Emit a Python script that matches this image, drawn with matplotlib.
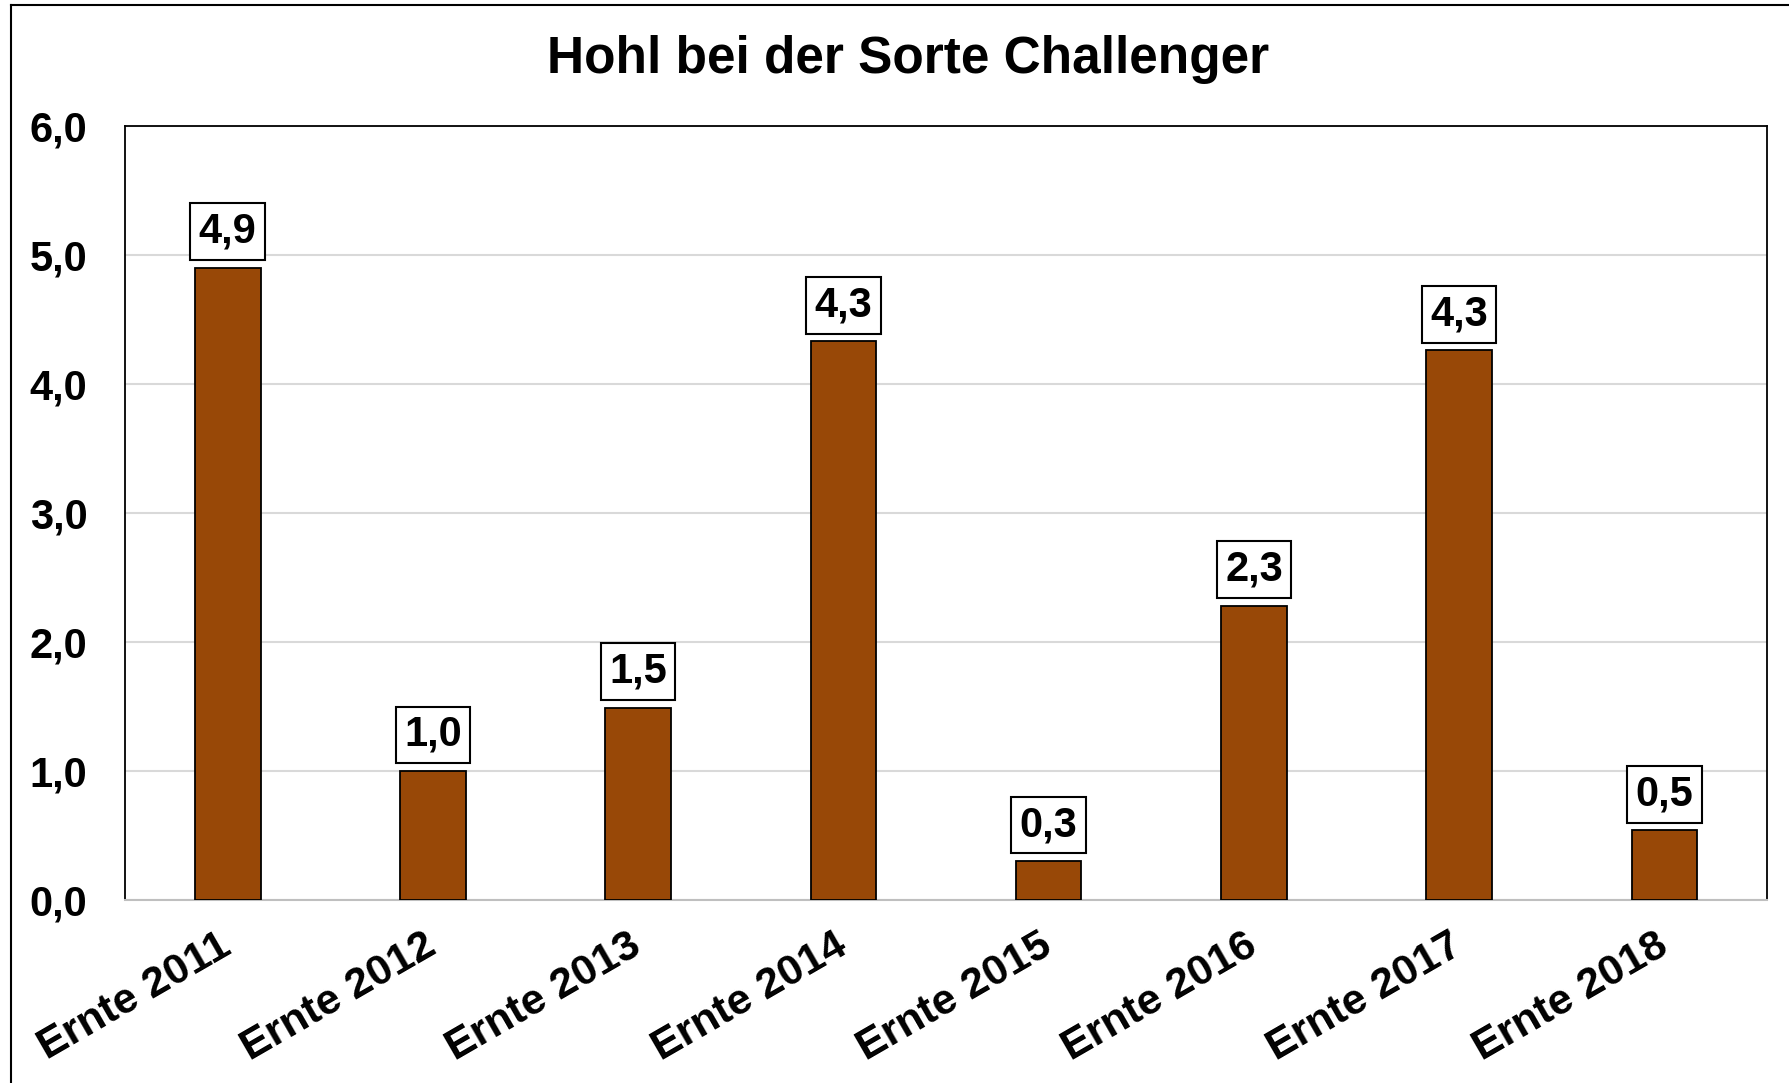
import matplotlib.pyplot as plt
from matplotlib.lines import Line2D

plt.rcParams['font.family'] = ['Liberation Sans', 'DejaVu Sans']
plt.rcParams['font.weight'] = 'bold'

TITLE = 'Hohl bei der Sorte Challenger'
years = ['Ernte 2011', 'Ernte 2012', 'Ernte 2013', 'Ernte 2014',
         'Ernte 2015', 'Ernte 2016', 'Ernte 2017', 'Ernte 2018']
values = [4.90, 1.00, 1.49, 4.33, 0.30, 2.28, 4.26, 0.54]
y_ticks = [0, 1, 2, 3, 4, 5, 6]

BAR_COLOR = '#984807'
GRID_COLOR = '#d9d9d9'


def fmt(v):
    return f'{v:.1f}'.replace('.', ',')


def main():
    fig = plt.figure(figsize=(17.89, 10.83), dpi=100)
    ax = fig.add_axes([0.0699, 0.169, 0.9178, 0.7147])

    x = range(len(years))
    ax.bar(x, values, width=0.32, color=BAR_COLOR, edgecolor='black',
           linewidth=1.3, zorder=3)

    for i, v in enumerate(values):
        ax.annotate(fmt(v), (i, v), xytext=(0, 26), textcoords='offset points',
                    ha='center', va='center', fontsize=30, fontweight='bold',
                    bbox=dict(boxstyle='square,pad=0.2', facecolor='white',
                              edgecolor='black', linewidth=1.5),
                    zorder=4)

    ax.set_xlim(-0.5, len(years) - 0.5)
    ax.set_ylim(0, 6)
    ax.set_yticks(y_ticks)
    ax.set_yticklabels([fmt(t) for t in y_ticks], fontsize=30, fontweight='bold')
    ax.tick_params(axis='y', length=0, pad=27)

    ax.set_xticks(list(x))
    ax.set_xticklabels(years, fontsize=31, fontweight='bold', rotation=30,
                       ha='right', va='center', rotation_mode='anchor')
    ax.tick_params(axis='x', length=0, pad=31)

    ax.yaxis.grid(True, color=GRID_COLOR, linewidth=1.5, zorder=0)
    ax.set_axisbelow(True)

    for side in ['left', 'top', 'right']:
        ax.spines[side].set_color('black')
        ax.spines[side].set_linewidth(1.3)
    ax.spines['bottom'].set_color('#bfbfbf')
    ax.spines['bottom'].set_linewidth(1.5)

    fig.text(0.5075, 0.945, TITLE, ha='center', va='center', fontsize=37,
             fontweight='bold')

    # outer chart frame (only left and top edges visible)
    fx = 11 / 1789
    fy = 1 - 5 / 1083
    fig.add_artist(Line2D([fx, fx], [fy, -0.01], color='black', linewidth=1.5,
                          transform=fig.transFigure))
    fig.add_artist(Line2D([fx, 1.01], [fy, fy], color='black', linewidth=1.5,
                          transform=fig.transFigure))

    fig.savefig('out.png', dpi=100)


if __name__ == '__main__':
    main()
